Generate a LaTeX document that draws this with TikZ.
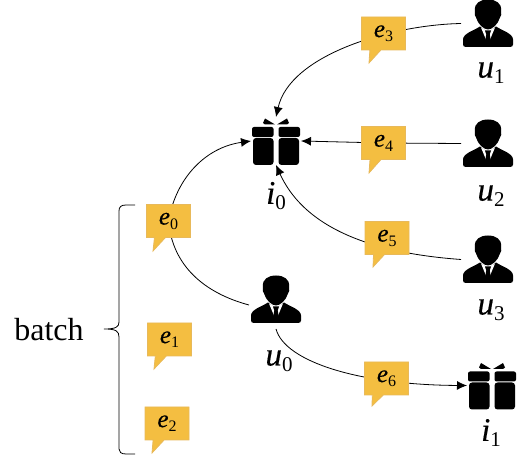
\documentclass[tikz,border=0pt]{standalone}
\usepackage{fontspec}
\setmainfont{Liberation Serif}
\newfontface\symit[FakeBold=0.4]{Liberation Serif Italic}
\usetikzlibrary{shapes.callouts,arrows.meta}
\pgfdeclarelayer{back}
\pgfsetlayers{back,main}
\definecolor{bubblefill}{HTML}{F4BE41}
\definecolor{bubbleline}{HTML}{E8B95A}
\newcommand\labsym[2]{{\fontsize{33}{36}\symit\selectfont #1}\raisebox{-6pt}{\fontsize{21}{23}\selectfont #2}}
\newcommand\bubsym[2]{{\fontsize{25}{28}\symit\selectfont #1}\raisebox{-4.5pt}{\fontsize{16}{18}\selectfont #2}}
\tikzset{
  x=1pt,y=1pt,
  bubble/.style={rectangle callout,fill=bubblefill,draw=bubbleline,line width=0.8pt,
    minimum width=44pt,minimum height=33pt,inner sep=0pt,
    callout pointer width=11pt},
  iconbox/.style={minimum width=#1,minimum height=48pt,inner sep=0pt,outer sep=0pt},
  lab/.style={inner sep=0pt},
  conn/.style={draw=black,line width=0.8pt},
  arr/.style={conn,-{Latex[length=10pt,width=9pt]}},
  person/.pic={
    \fill[black] (-13,13) .. controls (-14,20) and (-8,24) .. (0,24)
      .. controls (8,24) and (14,20) .. (13,13)
      .. controls (14,10) and (13,7) .. (12,6)
      .. controls (10,-1) and (4,-6) .. (0,-6)
      .. controls (-4,-6) and (-10,-1) .. (-12,6)
      .. controls (-13,7) and (-14,10) .. (-13,13) -- cycle;
    \fill[black] (-25,-21) .. controls (-25,-22.5) and (-24,-23.5) .. (-22,-23.5)
      -- (22,-23.5) .. controls (24,-23.5) and (25,-22.5) .. (25,-21)
      -- (25,-16) .. controls (25,-10) and (14,-7) .. (8,-3)
      -- (0,-9) -- (-8,-3) .. controls (-14,-7) and (-25,-10) .. (-25,-16) -- cycle;
    \fill[white] (-7,-4) -- (0,-21) -- (7,-4) -- (0,-8) -- cycle;
    \fill[black] (-3,-7) -- (3,-7) -- (1.7,-11) -- (3,-18) -- (0,-22) -- (-3,-18) -- (-1.7,-11) -- cycle;
  },
  giftpic/.pic={
    \fill[black] [rounded corners=2pt] (-24,4) -- (-24,14) -- (-2.5,14) -- (-2.5,4) -- cycle;
    \fill[black] [rounded corners=2pt] (24,4) -- (24,14) -- (2.5,14) -- (2.5,4) -- cycle;
    \fill[black] [rounded corners=3pt] (-23,3) -- (-2.5,3) -- (-2.5,-24) -- (-23,-24) -- cycle;
    \fill[black] [rounded corners=3pt] (23,3) -- (2.5,3) -- (2.5,-24) -- (23,-24) -- cycle;
    \fill[black] (-1,16.5) -- (-11,22.5) -- (-13,18) -- (-11,16.5) -- cycle;
    \fill[black] (1,16.5) -- (11,22.5) -- (13,18) -- (11,16.5) -- cycle;
  }
}
\begin{document}
\begin{tikzpicture}
\useasboundingbox (0,0) rectangle (520,461);
% icons
\node[iconbox=54pt] (u1) at (488,437.5) {};
\node[iconbox=54pt] (u2) at (488,317.5) {};
\node[iconbox=54pt] (u3) at (488,201.5) {};
\node[iconbox=54pt] (u0) at (276,156) {};
\node[iconbox=50pt] (i0) at (276,320) {};
\node[iconbox=50pt] (i1) at (492,75.5) {};
\pic at (u1) {person};
\pic at (u2) {person};
\pic at (u3) {person};
\pic at (276,161.5) {person};
\pic at (i0) {giftpic};
\pic at (i1) {giftpic};
% labels
\node[lab] (lu1) at (491,388) {\labsym{u}{1}};
\node[lab] (lu2) at (491,265) {\labsym{u}{2}};
\node[lab] (lu3) at (491,151) {\labsym{u}{3}};
\node[lab] (lu0) at (279,100) {\labsym{u}{0}};
\node[lab] (li0) at (276,265) {\labsym{i}{0}};
\node[lab] (li1) at (491,28) {\labsym{i}{1}};
\node[inner sep=0pt,font=\fontsize{32}{36}\selectfont] (batch) at (49,131) {batch};
% bubbles
\node[bubble,callout absolute pointer={(153,210)}] (e0) at (168.5,240) {\bubsym{e}{0}};
\node[bubble,callout absolute pointer={(154,92)}] (e1) at (169.5,121.5) {\bubsym{e}{1}};
\node[bubble,callout absolute pointer={(152,8)}] (e2) at (167,37.5) {\bubsym{e}{2}};
\node[bubble,callout absolute pointer={(369,398)}] (e3) at (383.5,427.5) {\bubsym{e}{3}};
\node[bubble,callout absolute pointer={(369,288)}] (e4) at (383.5,318) {\bubsym{e}{4}};
\node[bubble,callout absolute pointer={(373,194)}] (e5) at (387,223) {\bubsym{e}{5}};
\node[bubble,callout absolute pointer={(372,55)}] (e6) at (386.5,82.5) {\bubsym{e}{6}};
% connectors
\coordinate (u0low) at (276,132);
\begin{pgfonlayer}{back}
\draw[arr] (u1.west) .. controls (390,436) and (290,406) .. (i0.north);
\draw[arr] (u2.west) -- (e4.center) -- (i0.east);
\draw[arr] (u3.west) .. controls (400,206) and (310,221) .. (i0.south);
\draw[arr] (e0.center) to[out=80,in=188] (i0.west);
\draw[conn] (e0.center) to[out=-85,in=165] (u0.west);
\draw[arr] (u0low) .. controls (285,99) and (360,76) .. (i1.west);
\draw[conn] (135,256) -- (126,256) .. controls (121,256) and (119,254) .. (119,250)
  -- (119,139) .. controls (119,134) and (116,132) .. (104,132)
  .. controls (116,132) and (119,130) .. (119,124)
  -- (119,12) .. controls (119,9) and (121,7) .. (126,7) -- (135,7);
\end{pgfonlayer}
\end{tikzpicture}
\end{document}
